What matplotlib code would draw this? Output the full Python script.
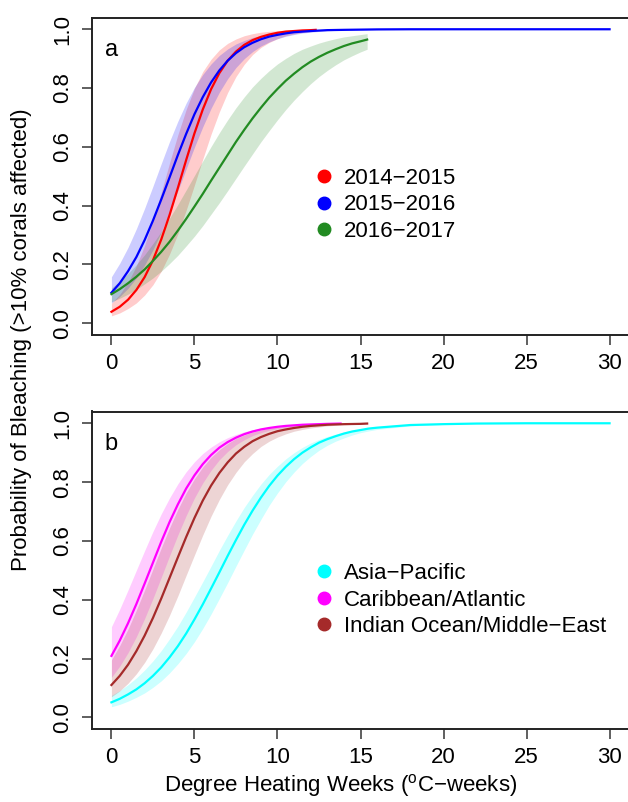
import matplotlib
matplotlib.use('Agg')
import matplotlib.pyplot as plt
from matplotlib.lines import Line2D

plt.rcParams['font.family'] = ['Liberation Sans', 'DejaVu Sans']

# ---------------- Panel a: bleaching years ----------------
years = ['2014−2015', '2015−2016', '2016−2017']
year_colors = ['#FF0000', '#0000FF', '#228B22']

x_1415 = [0, 0.5, 1, 1.5, 2, 2.5, 3, 3.5, 4, 4.5, 5, 5.5, 6, 6.5, 7, 7.5, 8, 8.5, 9, 9.5,
          10, 10.5, 11, 11.5, 12, 12.3]
p_1415 = [0.039, 0.056, 0.080, 0.113, 0.157, 0.214, 0.285, 0.368, 0.460, 0.555,
          0.646, 0.727, 0.796, 0.851, 0.893, 0.924, 0.947, 0.963, 0.974, 0.982,
          0.988, 0.992, 0.994, 0.996, 0.997, 0.998]
lo_1415 = [0.025, 0.035, 0.050, 0.069, 0.096, 0.131, 0.177, 0.235, 0.304, 0.384,
           0.470, 0.558, 0.643, 0.719, 0.785, 0.839, 0.881, 0.914, 0.938, 0.955,
           0.968, 0.978, 0.984, 0.989, 0.992, 0.994]
hi_1415 = [0.068, 0.098, 0.139, 0.195, 0.265, 0.350, 0.445, 0.545, 0.641, 0.727,
           0.799, 0.856, 0.898, 0.930, 0.952, 0.967, 0.978, 0.985, 0.990, 0.993,
           0.995, 0.997, 0.998, 0.999, 0.999, 0.999]

x_1516 = [0, 0.5, 1, 1.5, 2, 2.5, 3, 3.5, 4, 4.5, 5, 5.5, 6, 6.5, 7, 7.5, 8, 8.5, 9, 9.5,
          10, 10.5, 11, 11.5, 12, 13, 14, 16, 18, 20, 25, 30]
p_1516 = [0.104, 0.136, 0.177, 0.225, 0.283, 0.349, 0.421, 0.496, 0.572, 0.644,
          0.711, 0.769, 0.819, 0.860, 0.893, 0.919, 0.939, 0.954, 0.966, 0.975,
          0.981, 0.986, 0.990, 0.992, 0.994, 0.997, 0.998, 0.9995, 1.0, 1.0, 1.0, 1.0]
lo_1516 = [0.069, 0.091, 0.119, 0.154, 0.198, 0.250, 0.310, 0.378, 0.450, 0.525,
           0.599, 0.668, 0.731, 0.786, 0.832, 0.870, 0.900, 0.924, 0.943, 0.957,
           0.968, 0.976, 0.982, 0.987, 0.990, 0.995, 0.997, 0.999, 1.0, 1.0, 1.0, 1.0]
hi_1516 = [0.158, 0.204, 0.258, 0.321, 0.391, 0.466, 0.543, 0.618, 0.687, 0.749,
           0.802, 0.846, 0.882, 0.911, 0.933, 0.950, 0.962, 0.972, 0.979, 0.985,
           0.989, 0.992, 0.994, 0.995, 0.997, 0.998, 0.999, 1.0, 1.0, 1.0, 1.0, 1.0]

x_1617 = [0, 0.5, 1, 1.5, 2, 2.5, 3, 3.5, 4, 4.5, 5, 5.5, 6, 6.5, 7, 7.5, 8, 8.5, 9, 9.5,
          10, 10.5, 11, 11.5, 12, 12.5, 13, 13.5, 14, 14.5, 15, 15.4]
p_1617 = [0.099, 0.116, 0.136, 0.158, 0.183, 0.212, 0.243, 0.277, 0.315, 0.355,
          0.397, 0.440, 0.485, 0.529, 0.573, 0.617, 0.658, 0.697, 0.733, 0.767,
          0.797, 0.825, 0.849, 0.871, 0.890, 0.906, 0.920, 0.932, 0.943, 0.952,
          0.959, 0.965]
lo_1617 = [0.073, 0.085, 0.099, 0.115, 0.134, 0.154, 0.177, 0.203, 0.231, 0.263,
           0.296, 0.332, 0.371, 0.410, 0.451, 0.493, 0.535, 0.576, 0.617, 0.655,
           0.692, 0.727, 0.759, 0.788, 0.815, 0.839, 0.860, 0.879, 0.896, 0.910,
           0.923, 0.932]
hi_1617 = [0.120, 0.143, 0.169, 0.199, 0.233, 0.271, 0.312, 0.357, 0.404, 0.453,
           0.5025, 0.552, 0.601, 0.648, 0.692, 0.733, 0.770, 0.804, 0.833, 0.859,
           0.882, 0.901, 0.918, 0.932, 0.943, 0.953, 0.961, 0.968, 0.974, 0.978,
           0.982, 0.985]

# ---------------- Panel b: regions ----------------
regions = ['Asia−Pacific', 'Caribbean/Atlantic', 'Indian Ocean/Middle−East']
region_colors = ['#00FFFF', '#FF00FF', '#A52A2A']

x_asia = [0, 0.5, 1, 1.5, 2, 2.5, 3, 3.5, 4, 4.5, 5, 5.5, 6, 6.5, 7, 7.5, 8, 8.5, 9, 9.5,
          10, 10.5, 11, 11.5, 12, 12.5, 13, 13.5, 14, 14.5, 15, 15.5, 16, 18, 20, 22, 25, 30]
p_asia = [0.051, 0.063, 0.078, 0.095, 0.116, 0.141, 0.170, 0.204, 0.242, 0.285,
          0.333, 0.384, 0.438, 0.493, 0.549, 0.603, 0.655, 0.703, 0.747, 0.787,
          0.822, 0.852, 0.878, 0.900, 0.918, 0.934, 0.946, 0.956, 0.965, 0.972,
          0.977, 0.982, 0.985, 0.994, 0.997, 0.999, 1.0, 1.0]
lo_asia = [0.036, 0.044, 0.055, 0.068, 0.083, 0.102, 0.124, 0.151, 0.182, 0.217,
           0.257, 0.302, 0.351, 0.404, 0.458, 0.514, 0.569, 0.623, 0.673, 0.721,
           0.763, 0.801, 0.834, 0.863, 0.887, 0.908, 0.925, 0.939, 0.950, 0.960,
           0.968, 0.974, 0.979, 0.991, 0.996, 0.999, 1.0, 1.0]
hi_asia = [0.075, 0.091, 0.111, 0.134, 0.161, 0.192, 0.227, 0.267, 0.310, 0.358,
           0.409, 0.461, 0.514, 0.568, 0.619, 0.668, 0.714, 0.755, 0.793, 0.826,
           0.854, 0.879, 0.900, 0.918, 0.933, 0.945, 0.955, 0.963, 0.970, 0.976,
           0.980, 0.984, 0.987, 0.994, 0.998, 0.999, 1.0, 1.0]

x_carib = [0, 0.5, 1, 1.5, 2, 2.5, 3, 3.5, 4, 4.5, 5, 5.5, 6, 6.5, 7, 7.5, 8, 8.5, 9, 9.5,
           10, 10.5, 11, 11.5, 12, 13, 13.8]
p_carib = [0.209, 0.261, 0.320, 0.385, 0.455, 0.526, 0.597, 0.664, 0.724, 0.778,
           0.823, 0.861, 0.892, 0.917, 0.936, 0.951, 0.963, 0.972, 0.979, 0.984,
           0.988, 0.991, 0.993, 0.995, 0.996, 0.998, 0.999]
lo_carib = [0.136, 0.174, 0.220, 0.274, 0.336, 0.404, 0.476, 0.549, 0.620, 0.686,
            0.746, 0.797, 0.840, 0.876, 0.904, 0.927, 0.944, 0.958, 0.968, 0.976,
            0.982, 0.986, 0.990, 0.992, 0.994, 0.997, 0.998]
hi_carib = [0.308, 0.368, 0.433, 0.500, 0.567, 0.632, 0.692, 0.746, 0.794, 0.835,
            0.869, 0.897, 0.919, 0.937, 0.951, 0.962, 0.971, 0.978, 0.983, 0.987,
            0.990, 0.992, 0.994, 0.996, 0.997, 0.998, 0.999]

x_indian = [0, 0.5, 1, 1.5, 2, 2.5, 3, 3.5, 4, 4.5, 5, 5.5, 6, 6.5, 7, 7.5, 8, 8.5, 9, 9.5,
            10, 10.5, 11, 11.5, 12, 13, 14, 15, 15.4]
p_indian = [0.110, 0.141, 0.179, 0.225, 0.278, 0.338, 0.404, 0.474, 0.544, 0.613,
            0.678, 0.737, 0.788, 0.831, 0.867, 0.897, 0.920, 0.939, 0.953, 0.964,
            0.973, 0.979, 0.984, 0.988, 0.991, 0.995, 0.997, 0.998, 0.999]
lo_indian = [0.070, 0.090, 0.116, 0.148, 0.187, 0.233, 0.287, 0.347, 0.413, 0.483,
             0.552, 0.620, 0.684, 0.741, 0.791, 0.833, 0.869, 0.897, 0.921, 0.939,
             0.953, 0.964, 0.973, 0.979, 0.984, 0.991, 0.995, 0.997, 0.998]
hi_indian = [0.195, 0.244, 0.300, 0.364, 0.433, 0.504, 0.576, 0.644, 0.707, 0.763,
             0.811, 0.851, 0.884, 0.910, 0.931, 0.948, 0.960, 0.970, 0.977, 0.983,
             0.987, 0.990, 0.993, 0.994, 0.996, 0.998, 0.999, 0.999, 0.999]

x_ticks = [0, 5, 10, 15, 20, 25, 30]
y_ticks = [0.0, 0.2, 0.4, 0.6, 0.8, 1.0]
y_ticklabels = ['0.0', '0.2', '0.4', '0.6', '0.8', '1.0']

W, H = 628, 802
fig = plt.figure(figsize=(W / 100, H / 100), dpi=100)

left = 91.5 / W
width = 538 / W
ax_a = fig.add_axes([left, 1 - 335 / H, width, 317.5 / H])
ax_b = fig.add_axes([left, 1 - 729.1 / H, width, 317.6 / H])

FS = 16


def style(ax):
    ax.set_xlim(-1.2, 31.2)
    ax.set_ylim(-0.04, 1.04)
    ax.set_xticks(x_ticks)
    ax.set_xticklabels([str(t) for t in x_ticks])
    ax.set_yticks(y_ticks)
    ax.set_yticklabels(y_ticklabels, rotation=90, va='center')
    ax.tick_params(direction='out', length=7.2, width=1.2, colors='#444444',
                   labelcolor='black', labelsize=FS, pad=6)
    for s in ax.spines.values():
        s.set_linewidth(1.4)
        s.set_color('#222222')


series_a = [(x_1415, p_1415, lo_1415, hi_1415), (x_1516, p_1516, lo_1516, hi_1516),
            (x_1617, p_1617, lo_1617, hi_1617)]
series_b = [(x_asia, p_asia, lo_asia, hi_asia), (x_carib, p_carib, lo_carib, hi_carib),
            (x_indian, p_indian, lo_indian, hi_indian)]

legend_y = {'a': (335 - 205) / 317.5, 'b': (729.1 - 600) / 317.6}

for ax, series, cols, labels, tag in [(ax_a, series_a, year_colors, years, 'a'),
                                       (ax_b, series_b, region_colors, regions, 'b')]:
    for (xs, ps, los, his), c in zip(series, cols):
        ax.fill_between(xs, los, his, color=c, alpha=0.2, linewidth=0)
    for (xs, ps, los, his), c in zip(series, cols):
        ax.plot(xs, ps, color=c, linewidth=1.6, solid_joinstyle='round')
    style(ax)
    ax.text(0, 0.93, tag, ha='center', va='center', fontsize=FS + 1)
    handles = [Line2D([], [], marker='o', linestyle='', color=c, markersize=9) for c in cols]
    ax.legend(handles, labels, frameon=False, fontsize=FS, loc='center left',
              bbox_to_anchor=((316 - 91.5 - 14) / 538, legend_y[tag]),
              handlelength=1.0, handletextpad=0.4, labelspacing=0.25, borderpad=0)

fig.text(22 / W, 1 - 340 / H, 'Probability of Bleaching (>10% corals affected)',
         rotation=90, ha='center', va='center', fontsize=FS)
fig.text(341 / W, 1 - 785 / H, r'Degree Heating Weeks ($^\mathregular{o}$C−weeks)',
         ha='center', va='center', fontsize=FS)

fig.savefig('out.png', dpi=100)
